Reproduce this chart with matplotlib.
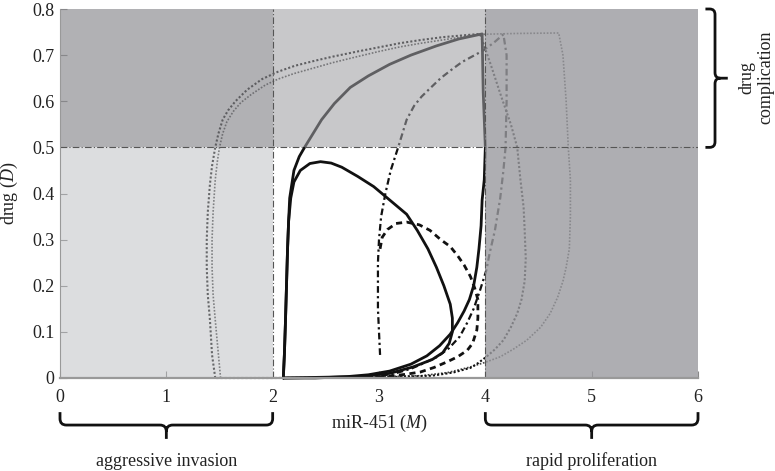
"""
miR-451 / drug phase plane
==========================
Trajectories in the (M, D) plane with the invasion, proliferation and
drug complication zones shaded.
"""

import matplotlib

matplotlib.use("Agg")
import matplotlib.pyplot as plt
from matplotlib.patches import PathPatch, Rectangle
from matplotlib.path import Path

plt.rcParams["font.family"] = ["Liberation Serif", "DejaVu Serif"]
plt.rcParams["mathtext.fontset"] = "custom"
plt.rcParams["mathtext.it"] = "Liberation Serif:italic"
plt.rcParams["mathtext.rm"] = "Liberation Serif"

# ---------------------------------------------------------------------------
# Data
# ---------------------------------------------------------------------------

M_LOW = 2.0       # below: aggressive invasion
M_HIGH = 4.0      # above: rapid proliferation
D_TOXIC = 0.5     # above: drug complication

x_ticks = [0, 1, 2, 3, 4, 5, 6]
y_ticks = [0, 0.1, 0.2, 0.3, 0.4, 0.5, 0.6, 0.7, 0.8]
y_tick_labels = ["0", "0.1", "0.2", "0.3", "0.4", "0.5", "0.6", "0.7", "0.8"]

# large solid loop
solid_big_m = [2.10, 2.11, 2.12, 2.13, 2.14, 2.15, 2.16, 2.20, 2.25, 2.30, 2.38,
               2.46, 2.58, 2.73, 2.90, 3.10, 3.30, 3.54, 3.75, 3.97, 3.98, 4.00,
               3.99, 3.97, 3.96, 3.94, 3.92, 3.89, 3.85, 3.80, 3.74, 3.67, 3.57,
               3.45, 3.30, 3.10, 2.90, 2.70, 2.40, 2.10]
solid_big_d = [0.00, 0.05, 0.12, 0.20, 0.28, 0.34, 0.39, 0.45, 0.48, 0.50, 0.53,
               0.56, 0.595, 0.63, 0.655, 0.68, 0.70, 0.72, 0.735, 0.746, 0.62, 0.50,
               0.43, 0.386, 0.33, 0.28, 0.24, 0.20, 0.17, 0.145, 0.12, 0.095, 0.07,
               0.048, 0.03, 0.015, 0.007, 0.003, 0.0, 0.0]

# small solid loop
solid_small_m = [2.10, 2.11, 2.12, 2.13, 2.14, 2.15, 2.17, 2.20, 2.26, 2.35, 2.45,
                 2.55, 2.65, 2.80, 2.95, 3.10, 3.26, 3.36, 3.46, 3.54, 3.61, 3.67,
                 3.69, 3.69, 3.66, 3.60, 3.50, 3.32, 3.10, 2.80, 2.10]
solid_small_d = [0.00, 0.05, 0.12, 0.20, 0.28, 0.34, 0.39, 0.425, 0.45, 0.465, 0.469,
                 0.466, 0.457, 0.437, 0.415, 0.386, 0.355, 0.32, 0.28, 0.24, 0.20, 0.16,
                 0.13, 0.10, 0.075, 0.055, 0.04, 0.024, 0.01, 0.003, 0.0]

# dash-dot trajectory
dashdot_m = [3.01, 3.00, 2.99, 2.99, 2.99, 3.00, 3.02, 3.06, 3.11, 3.18, 3.22,
             3.26, 3.33, 3.40, 3.48, 3.58, 3.68, 3.78, 3.90, 3.98, 4.08, 4.17,
             4.20, 4.20, 4.19, 4.17, 4.14, 4.09, 4.04, 4.01, 3.95, 3.89, 3.83,
             3.76, 3.66, 3.55, 3.42, 3.30, 3.15, 3.00, 2.80]
dashdot_d = [0.05, 0.10, 0.15, 0.20, 0.25, 0.30, 0.35, 0.40, 0.45, 0.50, 0.53,
             0.56, 0.59, 0.61, 0.628, 0.65, 0.668, 0.685, 0.70, 0.71, 0.727, 0.745,
             0.70, 0.60, 0.50, 0.45, 0.39, 0.32, 0.27, 0.234, 0.19, 0.15, 0.12,
             0.09, 0.065, 0.046, 0.032, 0.02, 0.01, 0.004, 0.001]

# dashed trajectory
dashed_m = [3.01, 3.03, 3.08, 3.16, 3.26, 3.38, 3.48, 3.58, 3.67, 3.74, 3.80,
            3.86, 3.90, 3.93, 3.93, 3.92, 3.88, 3.83, 3.74, 3.64, 3.52, 3.39,
            3.25, 3.10, 2.90]
dashed_d = [0.28, 0.305, 0.322, 0.335, 0.338, 0.332, 0.32, 0.30, 0.285, 0.265, 0.245,
            0.22, 0.195, 0.17, 0.13, 0.104, 0.075, 0.06, 0.046, 0.035, 0.023, 0.013,
            0.008, 0.004, 0.001]

# dotted trajectory, darker (outer on the left, inner on the right)
dotted_a_m = [1.46, 1.43, 1.41, 1.39, 1.38, 1.38, 1.39, 1.41, 1.43, 1.46, 1.49,
              1.53, 1.58, 1.65, 1.76, 1.90, 2.05, 2.21, 2.40, 2.57, 2.80, 3.00,
              3.20, 3.40, 3.60, 3.80, 3.95, 4.05, 4.15, 4.24, 4.30, 4.33, 4.36,
              4.37, 4.38, 4.37, 4.34, 4.30, 4.24, 4.17, 4.09, 4.01, 3.93, 3.86,
              3.70, 3.50, 3.00, 2.00, 1.46]
dotted_a_d = [0.00, 0.05, 0.126, 0.18, 0.24, 0.30, 0.36, 0.42, 0.46, 0.50, 0.53,
              0.56, 0.58, 0.60, 0.625, 0.648, 0.664, 0.677, 0.688, 0.697, 0.708, 0.717,
              0.726, 0.733, 0.739, 0.743, 0.746, 0.68, 0.61, 0.55, 0.50, 0.43, 0.37,
              0.32, 0.26, 0.21, 0.17, 0.14, 0.11, 0.082, 0.062, 0.046, 0.032, 0.022,
              0.012, 0.005, 0.001, 0.0, 0.0]

# dotted trajectory, lighter (inner on the left, outer on the right)
dotted_b_m = [1.51, 1.49, 1.46, 1.44, 1.43, 1.43, 1.44, 1.46, 1.48, 1.50, 1.53,
              1.57, 1.63, 1.70, 1.80, 1.93, 2.05, 2.20, 2.40, 2.57, 2.80, 3.00,
              3.20, 3.40, 3.60, 3.80, 3.95, 4.30, 4.69, 4.73, 4.76, 4.78, 4.80,
              4.80, 4.79, 4.76, 4.73, 4.68, 4.61, 4.52, 4.39, 4.26, 4.14, 4.00,
              3.86, 3.65, 3.40, 2.50, 1.51]
dotted_b_d = [0.00, 0.05, 0.126, 0.18, 0.24, 0.30, 0.36, 0.43, 0.47, 0.50, 0.53,
              0.556, 0.578, 0.597, 0.615, 0.635, 0.648, 0.66, 0.673, 0.684, 0.697, 0.708,
              0.718, 0.726, 0.733, 0.740, 0.745, 0.747, 0.748, 0.70, 0.60, 0.50, 0.43,
              0.35, 0.28, 0.24, 0.21, 0.175, 0.14, 0.11, 0.082, 0.062, 0.046, 0.034,
              0.024, 0.012, 0.005, 0.0, 0.0]


# ---------------------------------------------------------------------------
# Helpers
# ---------------------------------------------------------------------------

def bottom_brace(ax, x0, x1, y_top, y_bar, y_tip, rx=0.06, ry=0.014):
    xm = (x0 + x1) / 2
    verts = [
        (x0, y_top), (x0, y_bar + ry), (x0, y_bar), (x0 + rx, y_bar),
        (xm - rx, y_bar), (xm, y_bar), (xm, y_bar - ry), (xm, y_tip),
        (xm, y_bar - ry), (xm, y_bar), (xm + rx, y_bar),
        (x1 - rx, y_bar), (x1, y_bar), (x1, y_bar + ry), (x1, y_top),
    ]
    codes = [
        Path.MOVETO, Path.LINETO, Path.CURVE3, Path.CURVE3,
        Path.LINETO, Path.CURVE3, Path.CURVE3, Path.LINETO,
        Path.MOVETO, Path.CURVE3, Path.CURVE3,
        Path.LINETO, Path.CURVE3, Path.CURVE3, Path.LINETO,
    ]
    ax.add_patch(PathPatch(Path(verts, codes), fill=False, lw=2.0,
                           ec="#111111", clip_on=False, capstyle="butt"))


def right_brace(ax, x_hook, x_bar, x_tip, y0, y1, rx=0.05, ry=0.012):
    ym = (y0 + y1) / 2
    verts = [
        (x_hook, y1), (x_bar - rx, y1), (x_bar, y1), (x_bar, y1 - ry),
        (x_bar, ym + ry), (x_bar, ym), (x_bar + rx, ym), (x_tip, ym),
        (x_bar + rx, ym), (x_bar, ym), (x_bar, ym - ry),
        (x_bar, y0 + ry), (x_bar, y0), (x_bar - rx, y0), (x_hook, y0),
    ]
    codes = [
        Path.MOVETO, Path.LINETO, Path.CURVE3, Path.CURVE3,
        Path.LINETO, Path.CURVE3, Path.CURVE3, Path.LINETO,
        Path.MOVETO, Path.CURVE3, Path.CURVE3,
        Path.LINETO, Path.CURVE3, Path.CURVE3, Path.LINETO,
    ]
    ax.add_patch(PathPatch(Path(verts, codes), fill=False, lw=2.0,
                           ec="#111111", clip_on=False, capstyle="butt"))


# ---------------------------------------------------------------------------
# Plot
# ---------------------------------------------------------------------------

fig = plt.figure(figsize=(7.75, 4.71), dpi=100)
ax = fig.add_axes([60 / 775, 1 - 378 / 471, 638 / 775, 369 / 471])
ax.set_xlim(0, 6)
ax.set_ylim(0, 0.8)

line_kw = dict(zorder=2, clip_on=False, solid_capstyle="round",
               solid_joinstyle="round")
ax.plot(dotted_b_m, dotted_b_d, ls=(0, (1, 1)), lw=1.2, color="#444444", **line_kw)
ax.plot(dotted_a_m, dotted_a_d, ls=(0, (1, 1)), lw=1.5, color="#111111", **line_kw)
ax.plot(dashed_m, dashed_d, ls=(0, (2.2, 1.6)), lw=2.0, color="#111111", **line_kw)
ax.plot(dashdot_m, dashdot_d, ls=(0, (3, 1.5, 1, 1.5)), lw=1.6, color="#111111", **line_kw)
ax.plot(solid_big_m, solid_big_d, lw=2.0, color="#111111", **line_kw)
ax.plot(solid_small_m, solid_small_d, lw=2.0, color="#111111", **line_kw)

# translucent zones on top of the trajectories
zones = [
    ((0, 0), M_LOW, D_TOXIC, "#bbbdc1", 0.5),
    ((0, D_TOXIC), M_LOW, 0.8 - D_TOXIC, "#87878c", 0.65),
    ((M_LOW, D_TOXIC), M_HIGH - M_LOW, 0.8 - D_TOXIC, "#9e9ea2", 0.56),
    ((M_HIGH, 0), 6 - M_HIGH, 0.8, "#9a9a9f", 0.8),
]
for xy, w, h, fc, a in zones:
    ax.add_patch(Rectangle(xy, w, h, fc=fc, ec="none", alpha=a, zorder=3))

# zone boundaries
bound_kw = dict(color="#555555", lw=0.8, ls=(0, (6, 2, 1, 2)), zorder=4)
ax.axvline(M_LOW, **bound_kw)
ax.axvline(M_HIGH, **bound_kw)
ax.axhline(D_TOXIC, **bound_kw)

# axes styling
for side in ["top", "right"]:
    ax.spines[side].set_visible(False)
ax.spines["left"].set_color("#999999")
ax.spines["bottom"].set_color("#999999")
ax.spines["bottom"].set_linewidth(1.6)
ax.spines["left"].set_zorder(5)
ax.spines["bottom"].set_zorder(5)

ax.set_xticks(x_ticks)
ax.set_xticklabels([str(t) for t in x_ticks])
ax.set_yticks(y_ticks)
ax.set_yticklabels(y_tick_labels)
ax.tick_params(axis="both", direction="in", length=5, color="#888888",
               labelsize=13, labelcolor="#222222")
ax.tick_params(axis="x", pad=8)
ax.tick_params(axis="y", pad=4)

ax.set_xlabel("miR-451 ($M$)", fontsize=13, color="#222222")
ax.xaxis.set_label_coords(0.5, -0.095)
ax.set_ylabel("drug ($D$)", fontsize=13, color="#222222")
ax.yaxis.set_label_coords(-0.062, 0.5)

# braces and zone names
bottom_brace(ax, 0.0, M_LOW, -0.074, -0.102, -0.132)
bottom_brace(ax, M_HIGH, 6.0, -0.074, -0.102, -0.132)
ax.text(1.0, -0.182, "aggressive invasion", ha="center", va="center",
        fontsize=13, color="#222222", clip_on=False)
ax.text(5.0, -0.180, "rapid proliferation", ha="center", va="center",
        fontsize=13, color="#222222", clip_on=False)

right_brace(ax, 6.07, 6.16, 6.28, D_TOXIC, 0.8)
ax.text(6.55, 0.652, "drug\ncomplication", rotation=90, ha="center",
        va="center", fontsize=13, color="#222222", linespacing=1.15,
        multialignment="center", clip_on=False)

fig.savefig("out.png", dpi=100)
